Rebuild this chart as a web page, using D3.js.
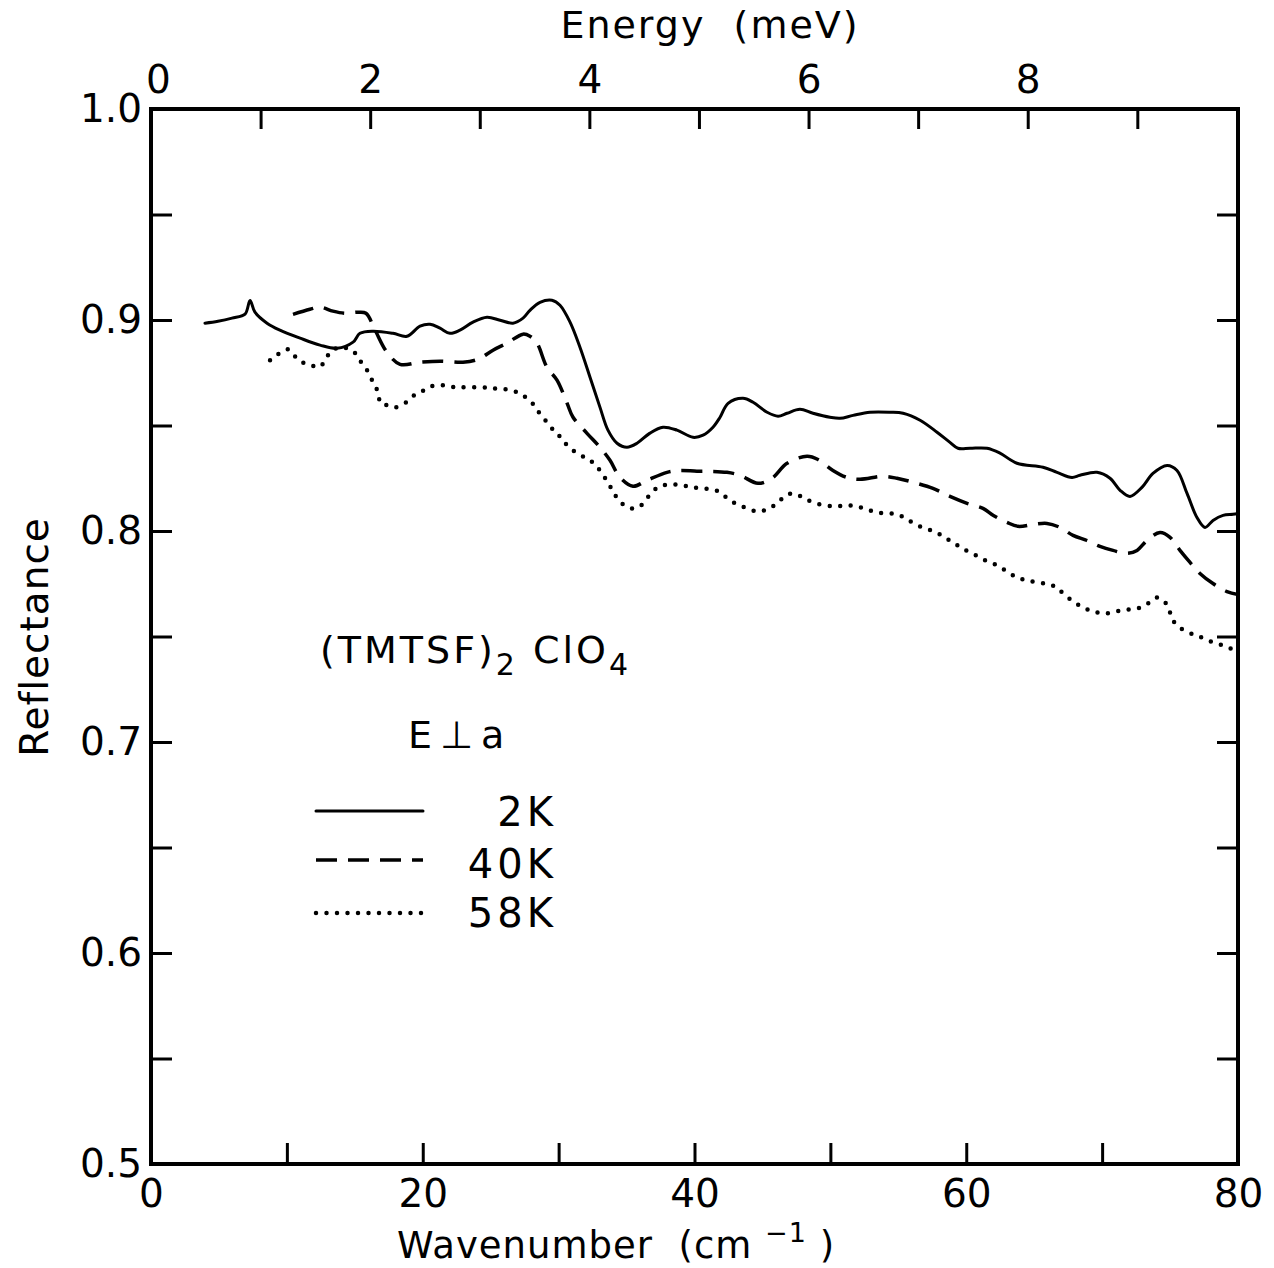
<!DOCTYPE html>
<html><head><meta charset="utf-8">
<script src="https://cdn.jsdelivr.net/npm/d3@7"></script>
<style>body{margin:0;background:#fff}svg{display:block}text{font-family:"DejaVu Sans",sans-serif;fill:#000}</style>
</head><body><svg id="chart" width="1274" height="1268"></svg>
<script>
// ---- data ----
const xTicks = [0,10,20,30,40,50,60,70,80];
const xTickLabels = [0,20,40,60,80];
const yTicks = [0.5,0.55,0.6,0.65,0.7,0.75,0.8,0.85,0.9,0.95,1.0];
const yTickLabels = [0.5,0.6,0.7,0.8,0.9,1.0];
const energyTicks = [0,1,2,3,4,5,6,7,8,9];
const energyTickLabels = [0,2,4,6,8];
const CM_PER_MEV = 8.0655;
const legendLabels = ["2K","40K","58K"];

const data2K = [[3.97,0.8985],[4.93,0.8994],[5.96,0.9009],[6.92,0.9028],[7.29,0.9092],[7.65,0.9037],[8.54,0.8985],[9.49,0.8952],[10.97,0.8914],[12.44,0.8881],[13.69,0.8866],[14.87,0.8895],[15.38,0.8937],[16.34,0.8947],[17.81,0.8937],[18.84,0.8923],[19.80,0.8971],[20.54,0.8980],[21.27,0.8961],[22.00,0.8937],[22.74,0.8952],[23.70,0.8990],[24.73,0.9013],[25.69,0.8999],[26.64,0.8985],[27.38,0.9009],[27.89,0.9046],[28.63,0.9084],[29.51,0.9094],[30.10,0.9070],[30.84,0.8990],[31.57,0.8871],[32.31,0.8729],[33.04,0.8587],[33.63,0.8478],[34.30,0.8416],[35.03,0.8397],[35.77,0.8416],[36.72,0.8464],[37.68,0.8492],[38.71,0.8478],[39.89,0.8444],[40.63,0.8454],[41.36,0.8492],[41.88,0.8539],[42.47,0.8605],[43.57,0.8629],[44.31,0.8610],[45.34,0.8563],[46.15,0.8544],[46.81,0.8558],[47.76,0.8577],[48.72,0.8558],[49.97,0.8539],[50.71,0.8534],[51.67,0.8548],[52.92,0.8563],[54.39,0.8563],[55.35,0.8558],[56.60,0.8525],[57.85,0.8468],[58.80,0.8420],[59.39,0.8392],[60.28,0.8392],[61.53,0.8392],[62.48,0.8369],[63.73,0.8321],[65.65,0.8302],[66.68,0.8278],[67.78,0.8254],[68.37,0.8264],[69.62,0.8278],[70.58,0.8250],[71.32,0.8193],[72.05,0.8164],[72.93,0.8207],[73.74,0.8273],[74.78,0.8311],[75.51,0.8287],[76.25,0.8178],[76.98,0.8064],[77.57,0.8017],[78.16,0.8050],[78.90,0.8074],[79.63,0.8079],[80.00,0.8083]];

const data40K = [[10.45,0.9027],[11.70,0.9051],[12.44,0.9061],[13.39,0.9042],[14.28,0.9032],[15.23,0.9037],[15.82,0.9032],[16.49,0.8952],[17.37,0.8847],[18.33,0.8790],[19.80,0.8800],[21.27,0.8805],[22.96,0.8800],[24.07,0.8814],[25.17,0.8857],[26.20,0.8890],[27.38,0.8933],[27.89,0.8923],[28.41,0.8890],[29.14,0.8776],[29.88,0.8715],[30.62,0.8606],[31.06,0.8539],[32.09,0.8463],[33.04,0.8397],[33.78,0.8335],[34.52,0.8254],[35.47,0.8212],[36.50,0.8240],[37.98,0.8278],[38.93,0.8287],[40.18,0.8283],[41.14,0.8283],[42.39,0.8278],[43.35,0.8264],[44.67,0.8226],[45.70,0.8250],[46.81,0.8321],[48.28,0.8354],[49.09,0.8339],[50.19,0.8287],[51.22,0.8254],[52.18,0.8245],[53.87,0.8259],[54.90,0.8250],[56.08,0.8231],[57.55,0.8202],[58.80,0.8164],[60.06,0.8131],[61.23,0.8107],[62.00,0.8074],[63.00,0.8041],[63.81,0.8022],[64.91,0.8031],[65.94,0.8036],[66.90,0.8017],[67.86,0.7979],[68.89,0.7955],[69.84,0.7927],[70.80,0.7908],[71.83,0.7894],[72.57,0.7908],[73.30,0.7955],[74.26,0.7993],[75.00,0.7970],[75.73,0.7908],[76.47,0.7851],[77.20,0.7799],[78.16,0.7751],[79.19,0.7713],[80.00,0.7699]];

const data58K = [[8.76,0.8809],[10.08,0.8861],[10.60,0.8828],[11.11,0.8800],[11.70,0.8790],[12.29,0.8776],[12.81,0.8805],[13.17,0.8847],[13.91,0.8871],[14.87,0.8852],[15.31,0.8814],[15.90,0.8762],[16.34,0.8705],[16.71,0.8658],[16.90,0.8605],[17.37,0.8596],[17.96,0.8586],[18.77,0.8610],[19.28,0.8639],[19.94,0.8662],[20.61,0.8686],[21.49,0.8691],[22.37,0.8681],[23.11,0.8681],[24.36,0.8681],[25.17,0.8676],[26.05,0.8672],[26.94,0.8658],[27.67,0.8629],[28.26,0.8591],[28.70,0.8548],[29.29,0.8506],[29.73,0.8468],[30.17,0.8444],[30.69,0.8401],[31.50,0.8363],[32.09,0.8344],[32.68,0.8316],[33.19,0.8273],[33.71,0.8221],[34.08,0.8178],[34.66,0.8131],[35.40,0.8107],[35.99,0.8117],[36.50,0.8155],[37.09,0.8197],[37.68,0.8216],[38.42,0.8221],[39.15,0.8216],[39.82,0.8207],[40.63,0.8202],[41.58,0.8193],[42.24,0.8164],[42.98,0.8131],[43.72,0.8112],[44.60,0.8093],[45.34,0.8102],[46.07,0.8131],[46.73,0.8169],[47.32,0.8178],[47.99,0.8159],[48.72,0.8136],[49.68,0.8121],[50.49,0.8117],[51.22,0.8121],[51.96,0.8117],[52.70,0.8102],[53.43,0.8088],[54.90,0.8079],[55.64,0.8055],[56.60,0.8022],[57.41,0.8003],[58.07,0.7984],[58.66,0.7960],[59.25,0.7936],[59.83,0.7913],[60.57,0.7889],[61.38,0.7861],[62.26,0.7837],[63.00,0.7808],[63.73,0.7780],[64.47,0.7766],[65.21,0.7756],[66.09,0.7747],[66.75,0.7728],[67.12,0.7704],[67.86,0.7666],[68.59,0.7638],[69.33,0.7619],[70.14,0.7609],[71.02,0.7619],[71.90,0.7628],[72.64,0.7633],[73.38,0.7657],[74.04,0.7685],[74.70,0.7657],[75.00,0.7614],[75.22,0.7576],[75.81,0.7538],[76.69,0.7510],[77.35,0.7495],[78.16,0.7472],[78.90,0.7457],[79.48,0.7443],[80.00,0.7443]];

// ---- layout ----
const L = 151, R = 1238, T = 109, B = 1164;
const svg = d3.select("#chart");
const x = d3.scaleLinear().domain([0, 80]).range([L, R]);
const y = d3.scaleLinear().domain([0.5, 1.0]).range([B, T]);
const xE = d3.scaleLinear().domain([0, 80 / CM_PER_MEV]).range([L, R]);

const styles = [
  {dash: null, width: 3, cap: "round"},
  {dash: "21 11", width: 3.5, cap: "butt"},
  {dash: "0 10.5", width: 4.5, cap: "round"}
];
const series = [data2K, data40K, data58K];

svg.append("defs").append("clipPath").attr("id", "plotclip")
  .append("rect").attr("x", L).attr("y", T).attr("width", R - L).attr("height", B - T);

const tickFont = 39;
function styleAxis(g) {
  g.select(".domain").remove();
  g.selectAll(".tick line").attr("stroke", "#000").attr("stroke-width", 3);
  g.selectAll(".tick text").attr("font-size", tickFont).attr("fill", "#000")
    .style("font-family", '"DejaVu Sans",sans-serif');
}

// bottom axis
svg.append("g").attr("transform", `translate(0,${B})`)
  .call(d3.axisBottom(x).tickValues(xTicks).tickSize(-21).tickPadding(15)
    .tickFormat(d => xTickLabels.includes(d) ? String(d) : ""))
  .call(styleAxis);

// top axis (energy)
const topAxis = svg.append("g").attr("transform", `translate(0,${T})`)
  .call(d3.axisTop(xE).tickValues(energyTicks).tickSize(-20).tickPadding(16)
    .tickFormat(d => energyTickLabels.includes(d) ? String(d) : ""))
  .call(styleAxis);
topAxis.selectAll(".tick text").filter(d => d === 0).attr("dx", 7);

// left axis
svg.append("g").attr("transform", `translate(${L},0)`)
  .call(d3.axisLeft(y).tickValues(yTicks).tickSize(-21).tickPadding(9)
    .tickFormat(d => yTickLabels.some(v => Math.abs(v - d) < 1e-9) ? d3.format(".1f")(d) : ""))
  .call(styleAxis);

// right axis
svg.append("g").attr("transform", `translate(${R},0)`)
  .call(d3.axisRight(y).tickValues(yTicks).tickSize(-21).tickFormat(""))
  .call(styleAxis);

// frame
svg.append("rect").attr("x", L).attr("y", T).attr("width", R - L).attr("height", B - T)
  .attr("fill", "none").attr("stroke", "#000").attr("stroke-width", 4);

// curves
const line = d3.line().x(d => x(d[0])).y(d => y(d[1])).curve(d3.curveCatmullRom.alpha(0.5));
const plot = svg.append("g").attr("clip-path", "url(#plotclip)");
series.forEach((s, i) => {
  const p = plot.append("path").datum(s).attr("d", line)
    .attr("fill", "none").attr("stroke", "#000")
    .attr("stroke-width", styles[i].width).attr("stroke-linecap", styles[i].cap)
    .attr("stroke-linejoin", "round");
  if (styles[i].dash) p.attr("stroke-dasharray", styles[i].dash);
});

// axis titles
svg.append("text").attr("x", 710).attr("y", 38).attr("text-anchor", "middle")
  .attr("font-size", 38).attr("letter-spacing", 2).text("Energy\u00a0\u00a0(meV)");

svg.append("text").attr("transform", "translate(48,637) rotate(-90)")
  .attr("text-anchor", "middle").attr("font-size", 39).attr("letter-spacing", 1).text("Reflectance");

const wt = svg.append("text").attr("x", 397).attr("y", 1258).attr("font-size", 37).attr("letter-spacing", 1);
wt.append("tspan").text("Wavenumber\u00a0\u00a0(cm\u00a0");
wt.append("tspan").attr("dy", -16).attr("font-size", 27).text("\u22121");
wt.append("tspan").attr("dy", 16).text("\u00a0)");

// annotation
const ann = svg.append("text").attr("x", 320).attr("y", 663).attr("font-size", 38).attr("letter-spacing", 3);
ann.append("tspan").text("(TMTSF)");
ann.append("tspan").attr("dy", 12).attr("font-size", 30).text("2");
ann.append("tspan").attr("dy", -12).text("\u00a0ClO");
ann.append("tspan").attr("dy", 12).attr("font-size", 30).text("4");

svg.append("text").attr("x", 408).attr("y", 748).attr("font-size", 38).attr("letter-spacing", 8).text("E\u22A5a");

// legend
const legY = [811, 860, 913];
const legTextY = [826, 878, 927];
legendLabels.forEach((lab, i) => {
  const l = svg.append("line").attr("x1", 316).attr("x2", 423).attr("y1", legY[i]).attr("y2", legY[i])
    .attr("stroke", "#000").attr("stroke-width", styles[i].width).attr("stroke-linecap", styles[i].cap);
  if (styles[i].dash) l.attr("stroke-dasharray", styles[i].dash);
  svg.append("text").attr("x", 557).attr("y", legTextY[i]).attr("text-anchor", "end")
    .attr("font-size", 40).attr("letter-spacing", 4).text(lab);
});
</script></body></html>
